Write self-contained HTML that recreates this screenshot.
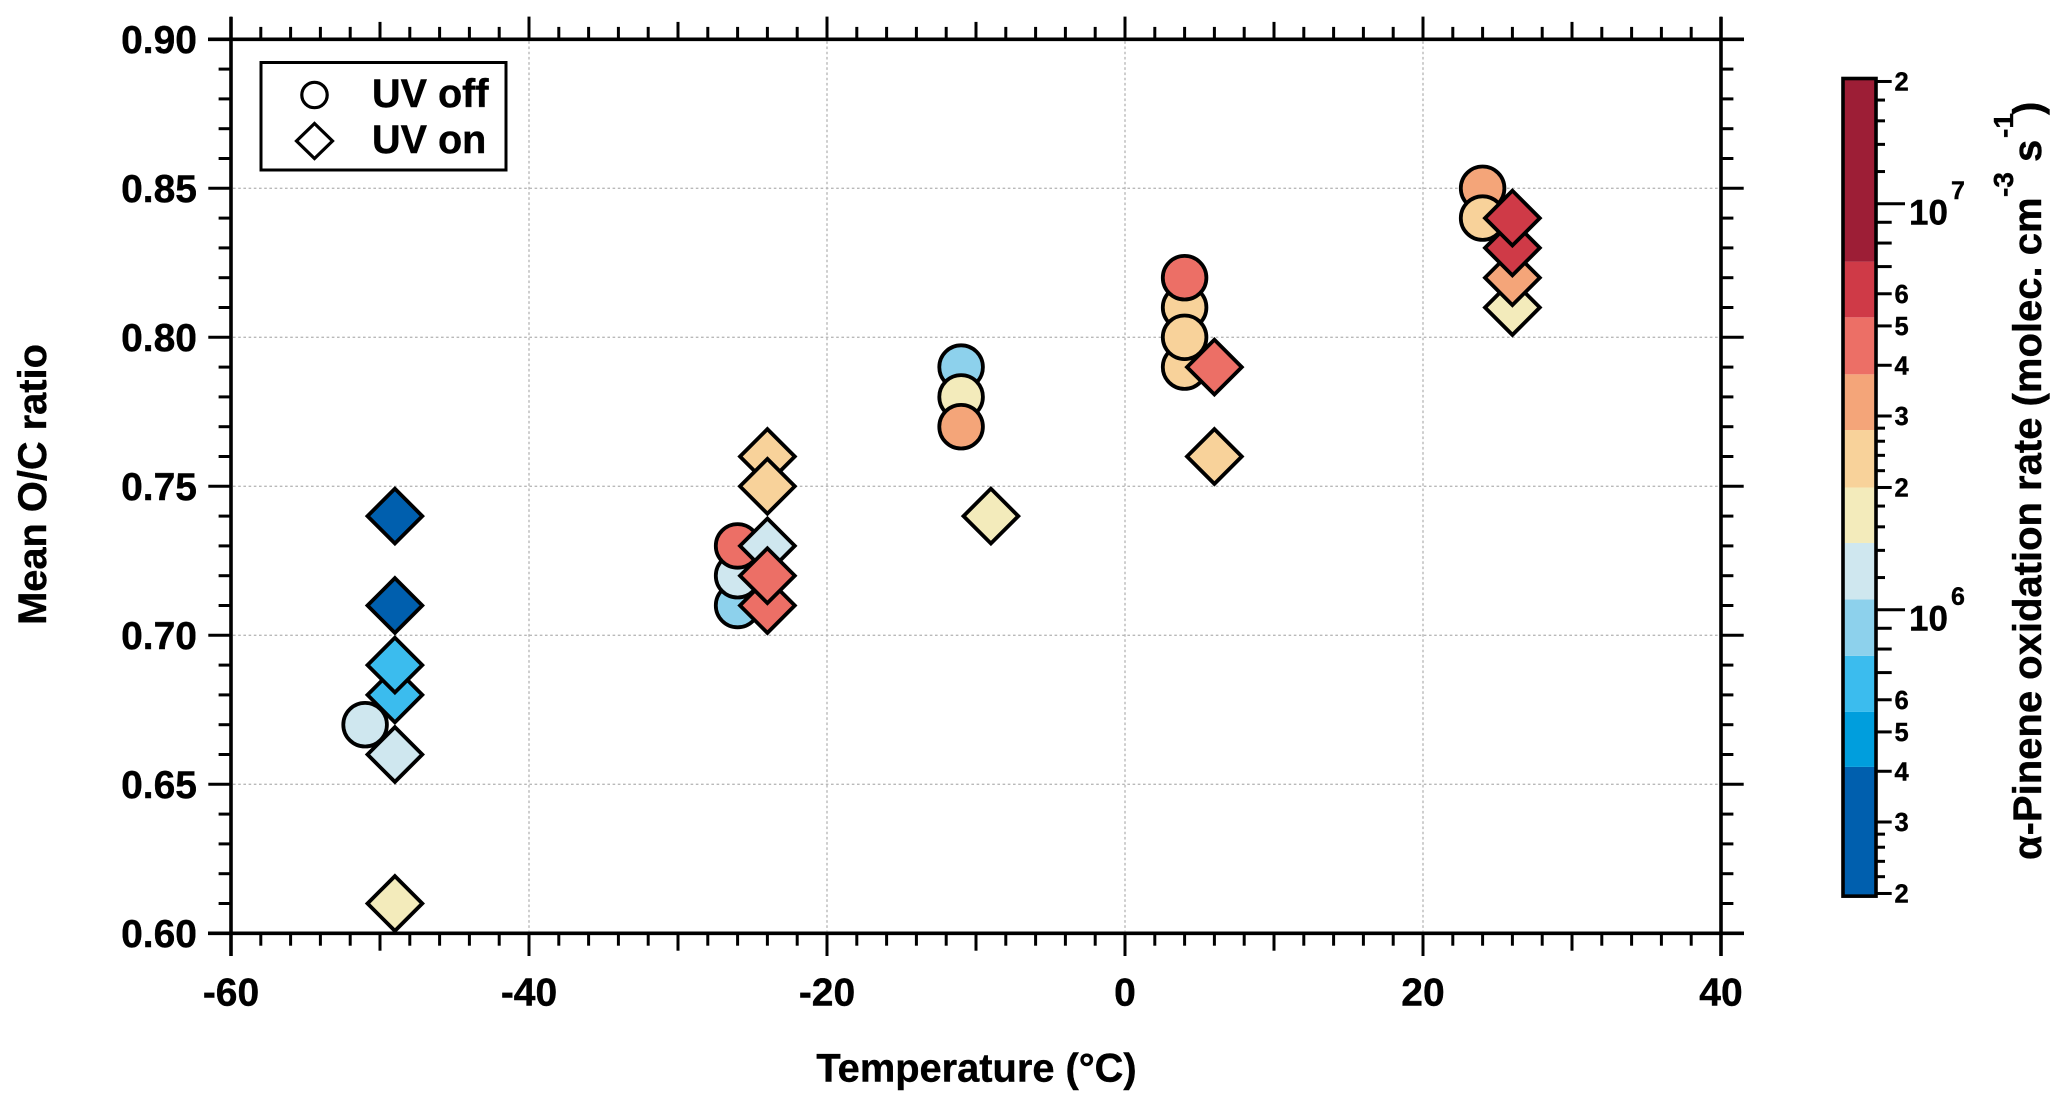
<!DOCTYPE html>
<html lang="en">
<head>
<meta charset="utf-8">
<title>Mean O/C ratio vs temperature</title>
<style>
  html, body { margin: 0; padding: 0; background: #fff; }
  svg { display: block; }
  text { font-family: "Liberation Sans", sans-serif; font-weight: bold; fill: #000; stroke: #000; stroke-width: 0.4px; }
</style>
</head>
<body>
<svg id="chart" xmlns="http://www.w3.org/2000/svg" width="2067" height="1109" viewBox="0 0 2067 1109">
  <rect x="0" y="0" width="2067" height="1109" fill="#fff"/>
  <g id="grid"></g>
  <g id="axes"></g>
  <g id="offMarks"></g>
  <g id="onMarks"></g>

  <g>
    <rect x="261" y="62.5" width="245" height="107.5" fill="#fff" stroke="#000" stroke-width="3"/>
    <circle cx="314.5" cy="95" r="12.7" fill="#fff" stroke="#000" stroke-width="3.2"/>
    <text x="372" y="107" font-size="39.6">UV off</text>
    <path d="M314.5 123.5L332.5 141L314.5 158.5L296.5 141Z" fill="#fff" stroke="#000" stroke-width="3.2"/>
    <text x="372" y="153" font-size="39.6">UV on</text>
  </g>

  <text x="976.5" y="1081.5" font-size="39.8" text-anchor="middle">Temperature (°C)</text>
  <text x="0" y="0" font-size="39.8" text-anchor="middle" transform="translate(46,484.5) rotate(-90)">Mean O/C ratio</text>

  <g id="colorbar"></g>

  <g transform="translate(2041,860) rotate(-90)">
    <text x="0" y="0" font-size="40">α-Pinene oxidation rate (molec. cm</text>
    <text x="663" y="-28" font-size="28">-3</text>
    <text x="698" y="0" font-size="40">s</text>
    <text x="722" y="-28" font-size="28">-1</text>
    <text x="745" y="0" font-size="40">)</text>
  </g>
</svg>

<script>
// ---- data ----
const uvOffTemps  = [-51, -26, -26, -26, -11, -11, -11, 4, 4, 4, 4, 24, 24];
const uvOffRatios = [0.67, 0.71, 0.72, 0.73, 0.79, 0.78, 0.77, 0.79, 0.81, 0.80, 0.82, 0.85, 0.84];
const uvOffRates  = [1.2e6, 9e5, 1.2e6, 4.4e6, 9e5, 1.7e6, 3.2e6, 2.3e6, 2.3e6, 2.3e6, 4.4e6, 3.2e6, 2.3e6];

const uvOnTemps  = [-49, -49, -49, -49, -49, -49, -24, -24, -24, -24, -24, -9, 6, 6, 26, 26, 26, 26];
const uvOnRatios = [0.61, 0.74, 0.71, 0.66, 0.68, 0.69, 0.76, 0.75, 0.73, 0.71, 0.72, 0.74, 0.76, 0.79, 0.81, 0.82, 0.83, 0.84];
const uvOnRates  = [1.7e6, 2.8e5, 2.8e5, 1.2e6, 6.5e5, 6.5e5, 2.3e6, 2.3e6, 1.2e6, 4.4e6, 4.4e6, 1.7e6, 2.3e6, 4.4e6, 1.7e6, 3.2e6, 6e6, 6e6];

const xTickLabels = ["-60", "-40", "-20", "0", "20", "40"];
const yTickLabels = ["0.60", "0.65", "0.70", "0.75", "0.80", "0.85", "0.90"];

const rateBinEdges = [4.1e5, 5.6e5, 7.7e5, 1.06e6, 1.46e6, 2.0e6, 2.77e6, 3.8e6, 5.25e6, 7.2e6];
const rateBinColors = ["#005fae", "#009edd", "#3bbcee", "#8dd1ec", "#cfe7ef", "#f3ebbb", "#f8d29a", "#f4a579", "#ec6f66", "#cf3a47", "#9d1e36"];

const cbLimits = [1.97e5, 2.034e7];
const cbMajorTicks = [1e6, 1e7];
const cbMajorExponents = ["6", "7"];
const cbMediumTicks = [2e5, 3e5, 4e5, 5e5, 6e5, 7e5, 8e5, 9e5, 2e6, 3e6, 4e6, 5e6, 6e6, 7e6, 8e6, 9e6, 2e7];
const cbMinorTicks = [2.2e5, 2.4e5, 2.6e5, 2.8e5, 1.2e6, 1.4e6, 1.6e6, 1.8e6, 2.2e6, 2.4e6, 2.6e6, 2.8e6, 1.2e7, 1.4e7, 1.6e7, 1.8e7];
const cbLabelledTicks = [2e5, 3e5, 4e5, 5e5, 6e5, 2e6, 3e6, 4e6, 5e6, 6e6, 2e7];
const cbLabelledText = ["2", "3", "4", "5", "6", "2", "3", "4", "5", "6", "2"];

// ---- scales ----
const NS = "http://www.w3.org/2000/svg";
const X0 = 231, X1 = 1721, Y0 = 933.3, Y1 = 39.3;
const xMin = -60, xMax = 40, yMin = 0.60, yMax = 0.90;
function sx(t) { return X0 + (t - xMin) / (xMax - xMin) * (X1 - X0); }
function sy(v) { return Y0 - (v - yMin) / (yMax - yMin) * (Y0 - Y1); }
function cbY(r) { return 609.7 - 406 * Math.log10(r / 1e6); }
function rateColor(r) {
  let i = 0;
  while (i < rateBinEdges.length && r >= rateBinEdges[i]) i++;
  return rateBinColors[i];
}
function mk(parent, tag, attrs, txt) {
  const el = document.createElementNS(NS, tag);
  for (const k in attrs) el.setAttribute(k, attrs[k]);
  if (txt !== undefined) el.textContent = txt;
  parent.appendChild(el);
  return el;
}

const grid = document.getElementById("grid");
const axes = document.getElementById("axes");
const offG = document.getElementById("offMarks");
const onG = document.getElementById("onMarks");
const cb = document.getElementById("colorbar");

// ---- grid lines ----
xTickLabels.forEach(function (lab) {
  const t = Number(lab);
  if (t === xMin || t === xMax) return;
  const el = mk(grid, "line", { x1: sx(t), x2: sx(t), y1: Y1 + 2, y2: Y0 - 2, stroke: "#b9b9b9", "stroke-width": 1.4, "stroke-dasharray": "2.6 2.6" });
  
  
});
yTickLabels.forEach(function (lab) {
  const v = Number(lab);
  if (v === yMin || v === yMax) return;
  const el = mk(grid, "line", { x1: X0 + 2, x2: X1 - 2, y1: sy(v), y2: sy(v), stroke: "#b9b9b9", "stroke-width": 1.4, "stroke-dasharray": "2.6 2.6" });
  
  
});

// ---- axes frame ----
const frameTop = mk(axes, "line", { x1: 208, x2: 1744, y1: Y1, y2: Y1, stroke: "#000", "stroke-width": 3.6 });


const frameBottom = mk(axes, "line", { x1: 208, x2: 1744, y1: Y0, y2: Y0, stroke: "#000", "stroke-width": 3.6 });


const frameLeft = mk(axes, "line", { x1: X0, x2: X0, y1: 17, y2: 956, stroke: "#000", "stroke-width": 3.6 });


const frameRight = mk(axes, "line", { x1: X1, x2: X1, y1: 17, y2: 956, stroke: "#000", "stroke-width": 3.6 });



// ---- x ticks (top and bottom) ----
for (let t = xMin; t <= xMax; t += 2) {
  const len = t % 20 === 0 ? 22.7 : (t % 10 === 0 ? 17.4 : 12.4);
  const bottom = mk(axes, "line", { x1: sx(t), x2: sx(t), y1: Y0, y2: Y0 + len, stroke: "#000", "stroke-width": 3 });
  
  
  const top = mk(axes, "line", { x1: sx(t), x2: sx(t), y1: Y1, y2: Y1 - len, stroke: "#000", "stroke-width": 3 });
  
  
}
// ---- y ticks (left and right) ----
for (let i = 0; i <= 30; i++) {
  const v = yMin + i * 0.01;
  const len = i % 5 === 0 ? 22.7 : 12.4;
  const left = mk(axes, "line", { x1: X0, x2: X0 - len, y1: sy(v), y2: sy(v), stroke: "#000", "stroke-width": 3 });
  
  
  const right = mk(axes, "line", { x1: X1, x2: X1 + len, y1: sy(v), y2: sy(v), stroke: "#000", "stroke-width": 3 });
  
  
}
// ---- tick labels ----
xTickLabels.forEach(function (lab) {
  const el = mk(axes, "text", { x: sx(Number(lab)), y: 1005.5, "font-size": 39, "text-anchor": "middle" }, lab);
  
  
});
yTickLabels.forEach(function (lab) {
  const el = mk(axes, "text", { x: 197, y: sy(Number(lab)) + 13.9, "font-size": 39, "text-anchor": "end" }, lab);
  
  
});

// ---- markers ----
const CIRCLE_R = 21.8, DIAMOND_R = 27.4, MARK_SW = 3.8;
uvOffTemps.forEach(function (t, i) {
  const el = mk(offG, "circle", { cx: sx(t), cy: sy(uvOffRatios[i]), r: CIRCLE_R, fill: rateColor(uvOffRates[i]), stroke: "#000", "stroke-width": MARK_SW });
  
  
});
uvOnTemps.forEach(function (t, i) {
  const cx = sx(t), cy = sy(uvOnRatios[i]), d = DIAMOND_R;
  const pts = "M" + cx + " " + (cy - d) + "L" + (cx + d) + " " + cy + "L" + cx + " " + (cy + d) + "L" + (cx - d) + " " + cy + "Z";
  const el = mk(onG, "path", { d: pts, fill: rateColor(uvOnRates[i]), stroke: "#000", "stroke-width": MARK_SW, "stroke-linejoin": "miter" });
  
  
});

// ---- colorbar ----
const cbLeft = 1843, cbRight = 1876;
const cbBounds = [cbLimits[0]].concat(rateBinEdges, [cbLimits[1]]);
rateBinColors.forEach(function (c, i) {
  const yTop = cbY(cbBounds[i + 1]), yBot = cbY(cbBounds[i]);
  const el = mk(cb, "rect", { x: cbLeft, y: yTop, width: cbRight - cbLeft, height: yBot - yTop, fill: c });
  
  
});
const cbFrame = mk(cb, "rect", { x: cbLeft, y: cbY(cbLimits[1]), width: cbRight - cbLeft, height: cbY(cbLimits[0]) - cbY(cbLimits[1]), fill: "none", stroke: "#000", "stroke-width": 3.6 });



cbMinorTicks.forEach(function (r) {
  const el = mk(cb, "line", { x1: cbRight, x2: 1885, y1: cbY(r), y2: cbY(r), stroke: "#000", "stroke-width": 3 });
  
  
});
cbMediumTicks.forEach(function (r) {
  const el = mk(cb, "line", { x1: cbRight, x2: 1891.7, y1: cbY(r), y2: cbY(r), stroke: "#000", "stroke-width": 3 });
  
  
});
cbMajorTicks.forEach(function (r, i) {
  const y = cbY(r);
  const el = mk(cb, "line", { x1: cbRight, x2: 1905, y1: y, y2: y, stroke: "#000", "stroke-width": 3 });
  
  
  const base = mk(cb, "text", { x: 1909, y: y + 21, "font-size": 35 }, "10");
  
  
  const exp = mk(cb, "text", { x: 1951, y: y - 4.5, "font-size": 25 }, cbMajorExponents[i]);
  
  
});
cbLabelledTicks.forEach(function (r, i) {
  const el = mk(cb, "text", { x: 1894.5, y: cbY(r) + 9.2, "font-size": 25.5 }, cbLabelledText[i]);
  
  
});
</script>
</body>
</html>
